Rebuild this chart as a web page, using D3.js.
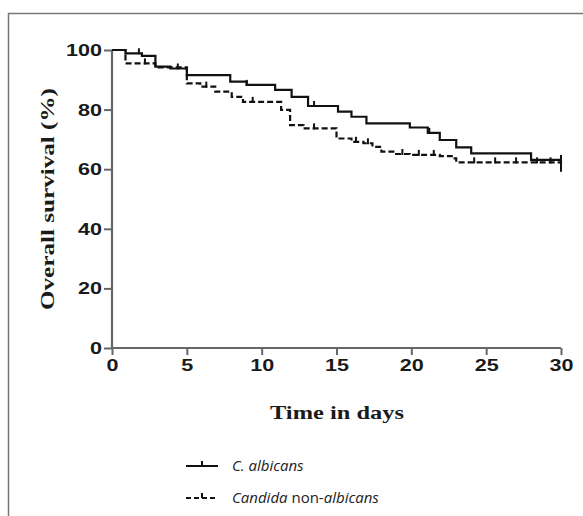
<!DOCTYPE html>
<html>
<head>
<meta charset="utf-8">
<script src="https://cdn.jsdelivr.net/npm/d3@7/dist/d3.min.js"></script>
<style>
  html, body { margin: 0; padding: 0; background: #fff; }
  svg { display: block; }
</style>
</head>
<body>
<svg id="chart" width="583" height="516"></svg>
<script>
// ---- Data ----
const xTicks = [0, 5, 10, 15, 20, 25, 30];
const yTicks = [0, 20, 40, 60, 80, 100];

const albicansTimes = [0, 0.9, 2.0, 2.9, 3.9, 5.0, 7.9, 9.0, 10.9, 12.0, 13.1, 15.1, 16.0, 17.0, 19.9, 21.1, 21.9, 23.0, 24.0, 28.0, 30];
const albicansSurv  = [100, 98.9, 98.0, 94.4, 93.8, 91.6, 89.4, 88.3, 86.6, 84.3, 81.2, 79.3, 77.6, 75.4, 74.0, 72.2, 69.8, 67.3, 65.3, 63.1, 63.1];
const albicansCensor = [1.8, 4.4, 9.0, 13.5, 21.2, 30];

const nonAlbicansTimes = [0, 0.9, 2.9, 5.0, 5.9, 6.9, 8.0, 8.75, 11.3, 11.9, 12.8, 15.0, 16.0, 16.8, 17.4, 18.0, 18.9, 19.9, 21.9, 22.7, 23.0, 30];
const nonAlbicansSurv  = [100, 95.5, 94.2, 88.8, 87.7, 86.0, 84.3, 82.6, 79.9, 74.8, 73.7, 70.3, 69.2, 68.7, 67.5, 65.9, 65.1, 64.8, 64.4, 63.6, 62.3, 61.8];
const nonAlbicansCensor = [2.2, 6.3, 9.4, 13.5, 16.3, 17.1, 19.4, 20.5, 21.5, 24.2, 25.6, 27.0, 28.4, 29.3, 30];

const seriesNames = ["C. albicans", "Candida non-albicans"];

// ---- Layout ----
const svg = d3.select("#chart");
const x = d3.scaleLinear().domain([0, 30]).range([112, 561]);
const y = d3.scaleLinear().domain([0, 100]).range([348, 50]);

// Frame
svg.append("path")
  .attr("d", "M8.5,516 L8.5,13.5 L583,13.5")
  .attr("fill", "none").attr("stroke", "#777").attr("stroke-width", 1.5);

// Axes
const axisColor = "#666";
const xAxis = svg.append("g").attr("transform", "translate(0,348)")
  .call(d3.axisBottom(x).tickValues(xTicks).tickSize(7).tickSizeOuter(0).tickPadding(4));
const yAxis = svg.append("g").attr("transform", "translate(112,0)")
  .call(d3.axisLeft(y).tickValues(yTicks).tickSize(8).tickSizeOuter(0).tickPadding(2));
[xAxis, yAxis].forEach(g => {
  g.select(".domain").attr("stroke", axisColor).attr("stroke-width", 2.2);
  g.selectAll(".tick line").attr("stroke", axisColor).attr("stroke-width", 2);
  g.selectAll(".tick text")
    .attr("fill", "#1a1a1a")
    .style("font-family", "'Liberation Sans', Arial, sans-serif")
    .style("font-weight", "bold")
    .style("font-size", "17px")
    .attr("lengthAdjust", "spacingAndGlyphs")
    .attr("textLength", function() { return this.textContent.length * 12; });
});
xAxis.select(".domain").attr("d", `M${x(0)-1},0H${x(30)}`);
yAxis.select(".domain").attr("d", `M0,${y(100)}V${y(0)+1}`);

// Axis titles
svg.append("text")
  .attr("x", 337).attr("y", 419)
  .attr("text-anchor", "middle")
  .style("font-family", "'Liberation Serif', 'Times New Roman', serif")
  .style("font-weight", "bold").style("font-size", "19px")
  .attr("fill", "#1a1a1a")
  .attr("textLength", 134).attr("lengthAdjust", "spacingAndGlyphs")
  .text("Time in days");
svg.append("text")
  .attr("transform", "translate(54,199) rotate(-90)")
  .attr("text-anchor", "middle")
  .style("font-family", "'Liberation Serif', 'Times New Roman', serif")
  .style("font-weight", "bold").style("font-size", "19px")
  .attr("fill", "#1a1a1a")
  .attr("textLength", 222).attr("lengthAdjust", "spacingAndGlyphs")
  .text("Overall survival (%)");

// Step curves
function stepPoints(times, surv) {
  return times.map((t, i) => [t, surv[i]]);
}
const line = d3.line().x(d => x(d[0])).y(d => y(d[1])).curve(d3.curveStepAfter);

function survAt(times, surv, t) {
  let v = surv[0];
  for (let i = 0; i < times.length; i++) if (times[i] <= t) v = surv[i];
  return v;
}

const series = [
  { times: albicansTimes, surv: albicansSurv, censor: albicansCensor, dash: null },
  { times: nonAlbicansTimes, surv: nonAlbicansSurv, censor: nonAlbicansCensor, dash: "6,3" }
];

series.forEach(s => {
  svg.append("path")
    .datum(stepPoints(s.times, s.surv))
    .attr("d", line)
    .attr("fill", "none")
    .attr("stroke", "#111")
    .attr("stroke-width", 2.2)
    .attr("stroke-dasharray", s.dash);
  svg.append("g").selectAll("line").data(s.censor).join("line")
    .attr("x1", d => x(d)).attr("x2", d => x(d))
    .attr("y1", d => y(survAt(s.times, s.surv, d)) - 5)
    .attr("y2", d => y(survAt(s.times, s.surv, d)) + (d === 30 ? 8 : 1))
    .attr("stroke", "#111").attr("stroke-width", 2);
});

// Legend
const legendFont = "'Open Sans', 'Noto Sans', sans-serif";
const lg = svg.append("g");
const legY = [466, 498];
lg.append("line").attr("x1", 186).attr("x2", 218).attr("y1", legY[0]).attr("y2", legY[0])
  .attr("stroke", "#111").attr("stroke-width", 2);
lg.append("line").attr("x1", 202).attr("x2", 202).attr("y1", legY[0]-5).attr("y2", legY[0])
  .attr("stroke", "#111").attr("stroke-width", 2);
lg.append("line").attr("x1", 186).attr("x2", 218).attr("y1", legY[1]).attr("y2", legY[1])
  .attr("stroke", "#111").attr("stroke-width", 2).attr("stroke-dasharray", "5,3");
lg.append("line").attr("x1", 202).attr("x2", 202).attr("y1", legY[1]-5).attr("y2", legY[1])
  .attr("stroke", "#111").attr("stroke-width", 2);

const t1 = lg.append("text").attr("x", 232).attr("y", legY[0] + 5)
  .style("font-family", legendFont).style("font-size", "15px").attr("fill", "#222");
t1.append("tspan").style("font-style", "italic").text(seriesNames[0]);

const t2 = lg.append("text").attr("x", 232).attr("y", legY[1] + 5)
  .style("font-family", legendFont).style("font-size", "15px").attr("fill", "#222");
t2.append("tspan").style("font-style", "italic").text("Candida");
t2.append("tspan").text(" non-");
t2.append("tspan").style("font-style", "italic").text("albicans");
</script>
</body>
</html>
